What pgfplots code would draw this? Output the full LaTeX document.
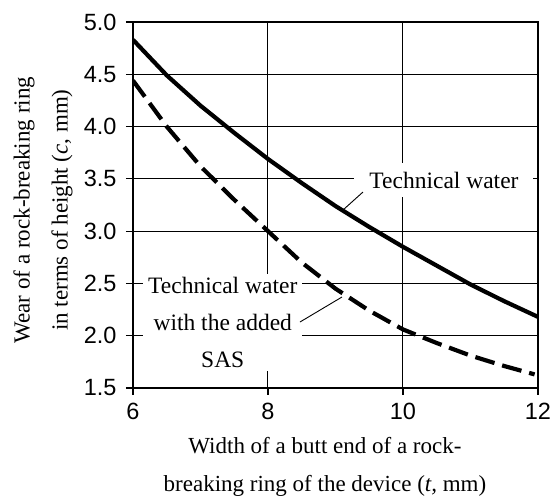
\documentclass[border=0pt]{standalone}
\usepackage{fontspec}
\setmainfont{Liberation Serif}
\setsansfont{Liberation Sans}
\usepackage{pgfplots}
\pgfplotsset{compat=1.18}
\begin{document}
\begin{tikzpicture}
% page = 550 x 497, axis box lower left at (0,0)
\path[use as bounding box] (-133pt,-109pt) rectangle (417pt,388pt);
\begin{axis}[
    scale only axis,
    width=405pt, height=366pt,
    xmin=6, xmax=12, ymin=1.5, ymax=5,
    enlargelimits=false,
    xtick={6,8,10,12},
    ytick={1.5,2,2.5,3,3.5,4,4.5,5},
    yticklabel style={xshift=-6pt, /pgf/number format/fixed, /pgf/number format/fixed zerofill, /pgf/number format/precision=1},
    /pgf/number format/assume math mode=true,
    ticklabel style={font=\sffamily\fontsize{23.5}{23.5}\selectfont},
    xticklabel style={yshift=-5pt},
    tick pos=left,
    tick align=outside,
    major tick length=7pt,
    every tick/.style={black, line width=1.2pt},
    grid=major,
    major grid style={black, line width=1pt},
    axis line style={line width=1.2pt},
    every axis x label/.style={at={(axis description cs:0.474,-0.2145)}, anchor=center},
    every axis y label/.style={at={(axis description cs:-0.222,0.486)}, anchor=center, rotate=90},
    label style={font=\fontsize{23}{38}\selectfont, align=center},
    xlabel={Width of a butt end of a rock-\\breaking ring of the device (\textit{t,} mm)},
    ylabel={Wear of a rock-breaking ring\\in terms of height (\textit{c}, mm)},
]
% Technical water
\addplot[black, line width=4.2pt] coordinates {
  (6,4.83) (6.5,4.49) (7,4.20) (7.5,3.94) (8,3.69) (8.5,3.46) (9,3.24)
  (9.5,3.04) (10,2.85) (10.5,2.67) (11,2.49) (11.5,2.33) (12,2.18)
};
% Technical water with the added SAS
\addplot[black, line width=4.2pt, dash pattern=on 20pt off 8pt] coordinates {
  (6,4.44) (6.5,4.00) (7,3.62) (7.5,3.30) (8,3.00) (8.5,2.70) (9,2.45)
  (9.5,2.24) (10,2.06) (10.5,1.93) (11,1.81) (11.5,1.71) (11.95,1.63)
};
\draw[line width=2.6pt] (rel axis cs:0,1) -- (rel axis cs:0,0) -- (rel axis cs:1,0);
\node[fill=white, inner xsep=15pt, inner ysep=9pt, font=\fontsize{23.5}{23.5}\selectfont]
  at (axis cs:10.607,3.489) {Technical water};
\node[fill=white, inner xsep=5pt, inner ysep=3pt, align=center, font=\fontsize{23.5}{37}\selectfont]
  at (axis cs:7.33,2.126) {Technical water\\with the added\\SAS};
\draw[line width=0.9pt] (axis cs:9.407,3.374) -- (axis cs:9.111,3.202);
\draw[line width=0.9pt] (axis cs:8.474,2.131) -- (axis cs:9.096,2.370);
\end{axis}
\end{tikzpicture}
\end{document}
